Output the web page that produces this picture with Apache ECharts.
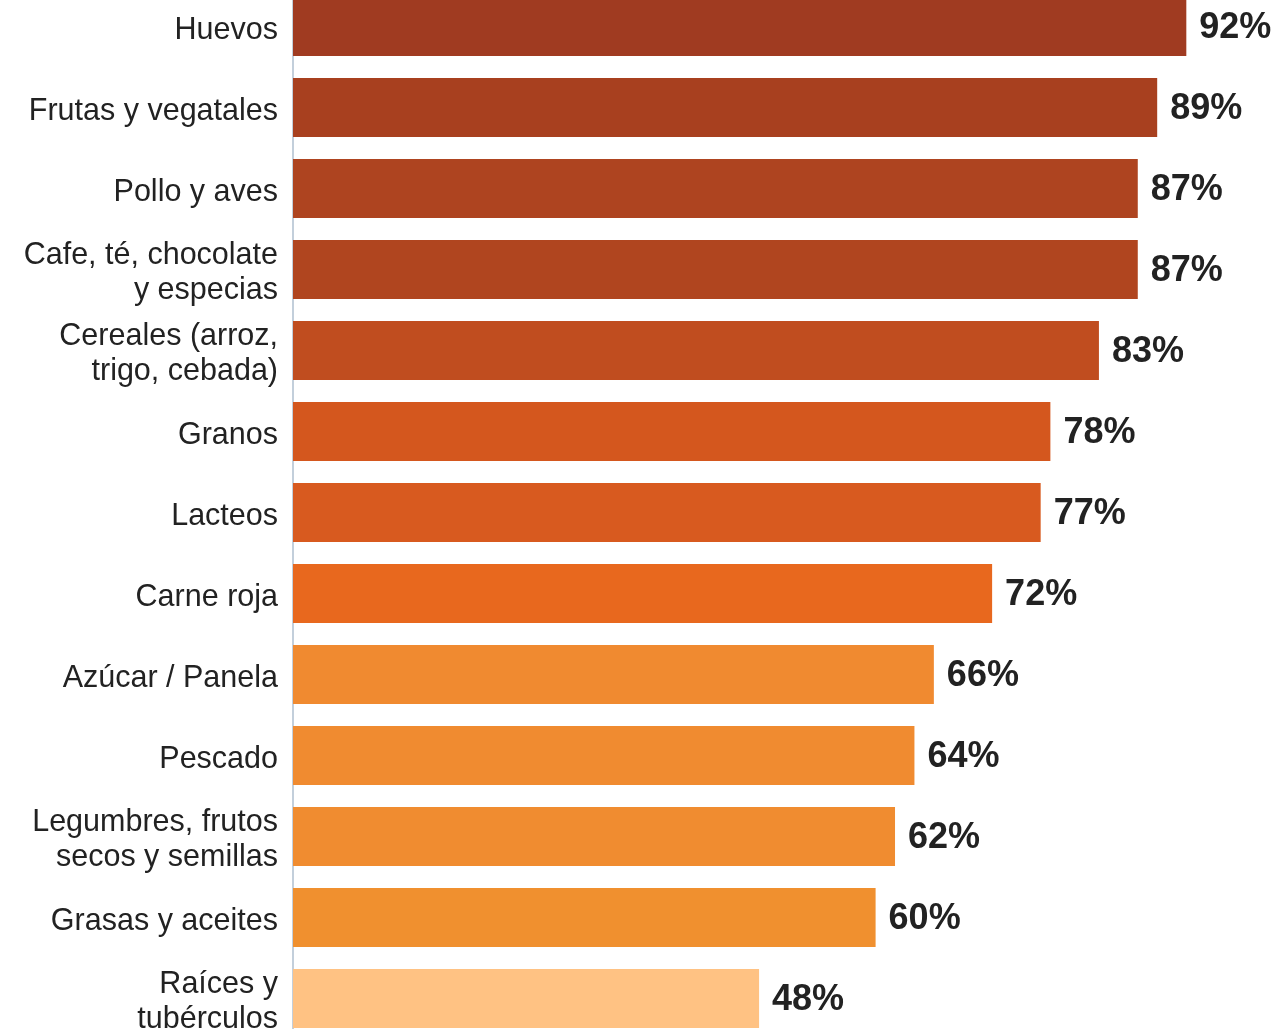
<!DOCTYPE html>
<html>
<head>
<meta charset="utf-8">
<script src="https://cdn.jsdelivr.net/npm/echarts@6/dist/echarts.min.js"></script>
<style>
html,body{margin:0;padding:0;background:#fff;overflow:hidden;width:1279px;height:1029px;}
#chart{position:absolute;left:0;top:-14px;width:1279px;height:1053px;}
</style>
</head>
<body>
<div id="chart"></div>
<script>
const categories = [
  'Huevos',
  'Frutas y vegatales',
  'Pollo y aves',
  'Cafe, té, chocolate\ny especias',
  'Cereales (arroz,\ntrigo, cebada)',
  'Granos',
  'Lacteos',
  'Carne roja',
  'Azúcar / Panela',
  'Pescado',
  'Legumbres, frutos\nsecos y semillas',
  'Grasas y aceites',
  'Raíces y\ntubérculos'
];
const values = [92, 89, 87, 87, 83, 78, 77, 72, 66, 64, 62, 60, 48];
const barColors = [
  '#A03B21', '#A8401F', '#AE4420', '#B0451F', '#C04D1F', '#D4571E', '#D85A1F',
  '#E8681E', '#F08A30', '#F08B30', '#F08C30', '#F0902F', '#FFC283'
];

const FONT = "'Liberation Sans', Arial, sans-serif";
const chart = echarts.init(document.getElementById('chart'));
chart.setOption({
  backgroundColor: '#ffffff',
  animation: false,
  grid: { left: 293, right: 15, top: 0, bottom: 0, containLabel: false },
  xAxis: {
    type: 'value', min: 0, max: 100,
    show: false
  },
  yAxis: {
    type: 'category',
    data: categories,
    inverse: true,
    axisLine: { show: true, lineStyle: { color: '#C3CFDB', width: 2 } },
    axisTick: { show: false },
    axisLabel: {
      color: '#222222',
      fontFamily: FONT,
      fontSize: 30.5,
      lineHeight: 35,
      margin: 15,
      align: 'right',
      formatter: function (v) { return '{t|' + v.split('\n').join('}\n{t|') + '}'; },
      rich: {
        t: { color: '#222222', fontFamily: FONT, fontSize: 30.5, lineHeight: 35, padding: [8, 0, 0, 0] }
      }
    }
  },
  series: [{
    type: 'bar',
    data: values.map((v, i) => ({ value: v, itemStyle: { color: barColors[i] } })),
    barWidth: 59,
    label: {
      show: true,
      position: 'right',
      distance: 13,
      offset: [0, 2],
      formatter: '{c}%',
      color: '#222222',
      fontFamily: FONT,
      fontWeight: 'bold',
      fontSize: 36
    }
  }]
});
</script>
</body>
</html>
